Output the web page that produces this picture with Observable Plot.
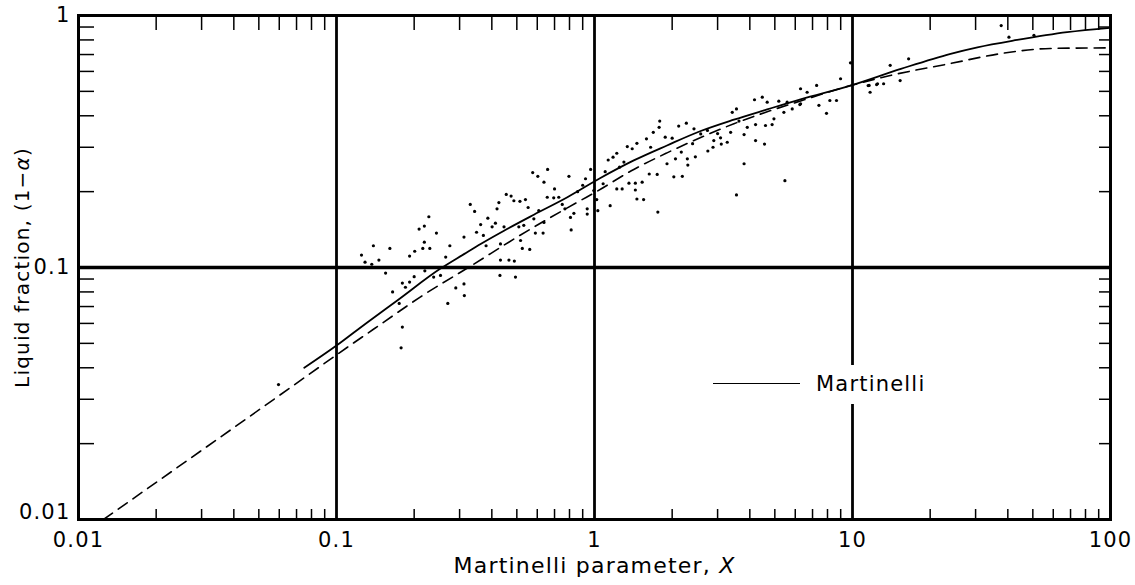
<!DOCTYPE html>
<html>
<head>
<meta charset="utf-8">
<script src="https://cdn.jsdelivr.net/npm/d3@7"></script>
<script src="https://cdn.jsdelivr.net/npm/@observablehq/plot@0.6"></script>
<style>
  body { margin: 0; background: #fff; }
  #wrap { position: relative; width: 1135px; height: 585px; font-family: "DejaVu Sans", sans-serif; }
  #legline { position: absolute; left: 713px; top: 383px; width: 87px; height: 0; border-top: 1.6px solid #000; }
  #legtext { position: absolute; left: 806px; top: 365px; height: 39px; line-height: 39px; padding: 0 8px 0 10px;
             background: #fff; font-size: 21px; letter-spacing: 1.2px; color: #000; }
</style>
</head>
<body>
<div id="wrap">
  <div id="chart"></div>
  <div id="legline"></div>
  <div id="legtext">Martinelli</div>
</div>
<script>
// Martinelli correlation (solid)
const solidX = [0.075, 0.1, 0.13, 0.172, 0.253, 0.312, 0.362, 0.446, 0.582, 0.785, 1.05, 1.42, 1.91, 2.58, 3.47, 4.67, 6.29, 9.82, 15.4, 24, 30.5, 43.5, 67.9, 100];
const solidY = [0.040, 0.049, 0.060, 0.074, 0.099, 0.113, 0.124, 0.140, 0.162, 0.190, 0.226, 0.266, 0.305, 0.348, 0.386, 0.424, 0.465, 0.527, 0.614, 0.705, 0.748, 0.800, 0.859, 0.894];

// second correlation (dashed)
const dashedX = [0.0125, 0.068, 0.1, 0.15, 0.211, 0.34, 0.501, 0.883, 1.0, 1.42, 1.91, 2.58, 3.47, 4.67, 6.29, 9.82, 14.0, 24, 37.5, 58.5, 100];
const dashedY = [0.010, 0.034, 0.045, 0.060, 0.0763, 0.1030, 0.132, 0.1845, 0.198, 0.245, 0.285, 0.328, 0.372, 0.415, 0.458, 0.527, 0.578, 0.645, 0.706, 0.740, 0.744];

// experimental points
const dotX = [
  0.139,0.161,0.129,0.137,0.146,0.209,0.219,0.228,0.219,0.230,0.244,0.192,0.201,0.216,0.275,0.312,0.330,0.343,0.349,0.371,
  0.362,0.386,0.401,0.413,0.426,0.419,0.455,0.475,0.487,0.514,0.540,0.553,0.576,0.603,0.637,0.658,0.796,0.923,0.966,0.656,
  0.695,0.727,0.608,0.582,0.590,0.632,0.637,0.812,0.832,0.937,0.937,1.02,1.03,0.994,0.432,0.466,0.489,0.430,0.494,0.312,
  0.313,0.180,0.192,0.185,0.238,0.253,0.509,0.525,0.561,0.517,0.532,0.807,0.768,0.446,0.432,
  0.118,0.125,0.165,0.175,0.180,0.178,0.200,0.220,0.270,0.290,0.0596,
  1.13,1.18,1.22,1.34,1.40,1.46,1.59,1.69,1.78,1.79,1.88,2.00,2.12,2.27,2.43,2.58,2.74,2.90,3.08,3.27,
  3.42,3.55,3.80,4.21,4.56,4.17,4.47,4.67,4.96,5.18,5.42,5.84,6.29,6.25,6.67,7.26,7.41,7.93,8.17,8.67,
  8.99,9.82,11.6,11.7,12.5,13.2,14.0,15.3,1.15,1.22,1.28,1.36,1.44,1.46,1.55,1.44,1.53,1.63,1.75,1.91,
  2.03,2.19,2.30,2.46,2.29,2.17,2.06,1.76,3.55,3.80,5.47,2.75,2.88,3.10,3.37,3.63,3.91,4.21,4.60,4.88,
  5.58,6.29,
  16.5,11.5,12.4,37.7,40.4,50.5,
  0.70,0.75,0.86,0.90,1.08,1.10,1.25,1.30,1.65,2.40,3.00,0.155,0.265,0.380
];
const dotY = [
  0.122,0.119,0.105,0.103,0.107,0.142,0.146,0.159,0.126,0.119,0.137,0.111,0.116,0.119,0.122,0.132,0.178,0.167,0.138,0.134,
  0.148,0.157,0.145,0.150,0.181,0.171,0.195,0.192,0.184,0.183,0.186,0.173,0.238,0.230,0.218,0.245,0.230,0.225,0.245,0.190,
  0.189,0.190,0.168,0.156,0.137,0.137,0.151,0.141,0.164,0.171,0.163,0.186,0.168,0.202,0.107,0.107,0.106,0.093,0.0916,0.0861,
  0.0774,0.0867,0.0875,0.0835,0.0916,0.093,0.145,0.119,0.118,0.128,0.147,0.158,0.171,0.145,0.124,
  0.100,0.112,0.080,0.072,0.058,0.048,0.092,0.097,0.072,0.083,0.0343,
  0.267,0.274,0.284,0.302,0.296,0.311,0.324,0.344,0.360,0.381,0.329,0.326,0.364,0.374,0.355,0.339,0.350,0.319,0.327,0.314,
  0.413,0.426,0.337,0.319,0.309,0.463,0.474,0.453,0.389,0.457,0.413,0.426,0.512,0.443,0.496,0.528,0.440,0.409,0.460,0.460,
  0.561,0.649,0.528,0.496,0.536,0.536,0.634,0.552,0.176,0.205,0.205,0.216,0.203,0.187,0.186,0.216,0.218,0.235,0.234,0.258,
  0.229,0.230,0.255,0.275,0.270,0.287,0.270,0.166,0.194,0.258,0.221,0.290,0.300,0.309,0.344,0.381,0.360,0.369,0.366,0.369,
  0.453,0.446,
  0.673,0.527,0.532,0.912,0.820,0.834,
  0.205,0.178,0.200,0.212,0.215,0.240,0.250,0.262,0.300,0.310,0.340,0.095,0.110,0.122
];

// axes
const xTickValues = [0.01, 0.1, 1, 10, 100];
const xTickLabels = ["0.01", "0.1", "1", "10", "100"];
const yTickValues = [1, 0.1, 0.01];
const yTickLabels = ["1", "0.1", "0.01"];
const gridX = [0.1, 1, 10];
const gridY = [0.1];
const minorMult = [2, 3, 4, 5, 6, 7, 8, 9];
const xDecades = [0.01, 0.1, 1, 10];
const yDecades = [0.01, 0.1];
const xLabel = "Martinelli parameter, X";
const yLabel = "Liquid fraction, (1\u2212\u03B1)";

const xMinor = xDecades.flatMap(d => minorMult.map(m => +(d * m).toPrecision(3)));
const yMinor = yDecades.flatMap(d => minorMult.map(m => +(d * m).toPrecision(3)));
const solid = solidX.map((x, i) => ({x, y: solidY[i]}));
const dashed = dashedX.map((x, i) => ({x, y: dashedY[i]}));
const dots = dotX.map((x, i) => ({x, y: dotY[i]}));
const xFmt = d => xTickLabels[xTickValues.indexOf(d)];
const yFmt = d => yTickLabels[yTickValues.indexOf(d)];

const chart = Plot.plot({
  width: 1135,
  height: 585,
  marginLeft: 78,
  marginRight: 25,
  marginTop: 15,
  marginBottom: 66,
  style: {fontFamily: "DejaVu Sans, sans-serif", fontSize: "21px", color: "#000", background: "#fff", letterSpacing: "1.2px"},
  x: {type: "log", domain: [0.01, 100]},
  y: {type: "log", domain: [0.01, 1]},
  marks: [
    Plot.ruleX(gridX, {strokeWidth: 2.8}),
    Plot.ruleY(gridY, {strokeWidth: 3.5}),
    Plot.axisX(xMinor, {anchor: "bottom", tickSize: -10, fill: "none", label: null, strokeWidth: 1.5}),
    Plot.axisX(xMinor, {anchor: "top", tickSize: -14, fill: "none", label: null, strokeWidth: 1.5}),
    Plot.axisY(yMinor, {anchor: "left", tickSize: -16, fill: "none", label: null, strokeWidth: 1.5}),
    Plot.axisY(yMinor, {anchor: "right", tickSize: -12, fill: "none", label: null, strokeWidth: 1.5}),
    Plot.axisX(xTickValues, {anchor: "bottom", tickSize: 0, tickPadding: 13, tickFormat: xFmt, label: null, fontSize: 21}),
    Plot.axisY(yTickValues.slice(0, 2), {anchor: "left", tickSize: 0, tickPadding: 8, tickFormat: yFmt, label: null, fontSize: 21}),
    Plot.axisY(yTickValues.slice(2), {anchor: "left", tickSize: 0, tickPadding: 8, tickFormat: yFmt, label: null, fontSize: 21, dy: -7}),
    Plot.text([xLabel], {frameAnchor: "bottom", dy: 46, lineAnchor: "middle", textAnchor: "middle", fontSize: 22, text: d => d}),
    Plot.text([yLabel], {frameAnchor: "left", dx: -56, rotate: -90, lineAnchor: "middle", textAnchor: "middle", fontSize: 20, text: d => d}),
    Plot.dot(dots, {x: "x", y: "y", r: 1.6, fill: "#000", stroke: "none"}),
    Plot.line(solid, {x: "x", y: "y", stroke: "#000", strokeWidth: 1.8, curve: "monotone-x", clip: true}),
    Plot.line(dashed, {x: "x", y: "y", stroke: "#000", strokeWidth: 1.6, strokeDasharray: "11,7", curve: "monotone-x", clip: true}),
    Plot.frame({stroke: "#000", strokeWidth: 3})
  ]
});

// italic variable symbols in the axis titles
d3.select(chart).selectAll("text").each(function() {
  const t = this.textContent;
  if (t === xLabel) {
    this.textContent = "Martinelli parameter, ";
    d3.select(this).append("tspan").attr("font-style", "italic").text("X");
  } else if (t === yLabel) {
    this.textContent = "Liquid fraction, (1\u2212";
    d3.select(this).append("tspan").attr("font-style", "italic").text("\u03B1");
    d3.select(this).append("tspan").text(")");
  }
});

document.getElementById("chart").appendChild(chart);
</script>
</body>
</html>
